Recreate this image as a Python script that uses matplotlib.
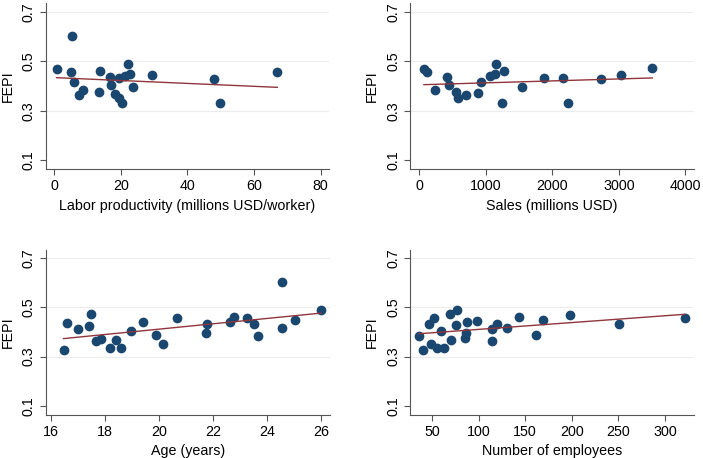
import numpy as np
import matplotlib.pyplot as plt

plt.rcParams['font.family'] = ['Liberation Sans', 'DejaVu Sans']

# Labor productivity (millions USD/worker) vs FEPI
prod_x = [0.8, 5.5, 5.1, 5.9, 7.5, 8.6, 13.5, 13.8, 16.7, 17.2, 18.3,
          19.5, 19.6, 20.4, 21.3, 22.2, 22.7, 23.8, 29.5, 47.9, 49.7, 67.0]
prod_y = [0.467, 0.602, 0.455, 0.416, 0.362, 0.383, 0.374, 0.460, 0.434, 0.402, 0.368,
          0.353, 0.432, 0.332, 0.440, 0.490, 0.448, 0.397, 0.443, 0.426, 0.332, 0.455]

# Sales (millions USD) vs FEPI
sales_x = [70, 110, 241, 421, 446, 546, 587, 697, 877, 922, 1063,
           1138, 1158, 1268, 1243, 1544, 1870, 2161, 2231, 2727, 3028, 3504]
sales_y = [0.467, 0.456, 0.383, 0.434, 0.402, 0.375, 0.352, 0.362, 0.370, 0.416, 0.440,
           0.447, 0.490, 0.460, 0.332, 0.397, 0.432, 0.430, 0.332, 0.426, 0.444, 0.471]

# Age (years) vs FEPI
age_x = [16.47, 16.60, 16.99, 17.42, 17.47, 17.69, 17.85, 18.19, 18.40, 18.59, 18.96,
         19.41, 19.88, 20.17, 20.69, 21.74, 21.79, 22.64, 22.79, 23.28, 23.51, 23.67,
         24.58, 24.57, 25.06, 26.0]
age_y = [0.328, 0.435, 0.414, 0.426, 0.472, 0.363, 0.373, 0.333, 0.369, 0.333, 0.403,
         0.442, 0.387, 0.353, 0.456, 0.397, 0.433, 0.442, 0.460, 0.456, 0.433, 0.385,
         0.602, 0.416, 0.449, 0.491]

# Number of employees vs FEPI
emp_x = [36, 40, 47, 49, 52, 55, 60, 63, 69, 70, 76, 77, 85, 86, 88, 98,
         114, 114, 120, 130, 143, 162, 169, 198, 251, 321]
emp_y = [0.384, 0.328, 0.434, 0.353, 0.456, 0.335, 0.403, 0.333, 0.471, 0.369, 0.427,
         0.491, 0.374, 0.397, 0.442, 0.443, 0.414, 0.363, 0.433, 0.416, 0.461, 0.387,
         0.449, 0.467, 0.433, 0.456]

yticks = [0.1, 0.3, 0.5, 0.7]
ytick_labels = ["0.1", "0.3", "0.5", "0.7"]

W, H = 703, 458
fig = plt.figure(figsize=(W / 100, H / 100), dpi=100)


def px_axes(left, top, right, bottom):
    return fig.add_axes([left / W, 1 - bottom / H, (right - left) / W, (bottom - top) / H])


panels = [
    (px_axes(45.7, 3.3, 329, 169), prod_x, prod_y, (-2.5, 82.5), [0, 20, 40, 60, 80],
     "Labor productivity (millions USD/worker)"),
    (px_axes(410.3, 3.3, 693.7, 169), sales_x, sales_y, (-135, 4126), [0, 1000, 2000, 3000, 4000],
     "Sales (millions USD)"),
    (px_axes(45.7, 249.7, 330, 414.7), age_x, age_y, (15.81, 26.34), [16, 18, 20, 22, 24, 26],
     "Age (years)"),
    (px_axes(410.3, 249.7, 693.7, 414.7), emp_x, emp_y, (26.7, 330.8), [50, 100, 150, 200, 250, 300],
     "Number of employees"),
]

fs = 10.3
for ax, x, y, xlim, xticks, xlabel in panels:
    x = np.array(x)
    y = np.array(y)
    for g in yticks[1:]:
        ax.axhline(g, color="#ececec", lw=0.8, zorder=0)
    ax.plot(x, y, "o", color="#1a476f", ms=6, mec="#1a476f", zorder=3)
    # linear fit line
    b, a = np.polyfit(x, y, 1)
    xs = np.array([x.min(), x.max()])
    ax.plot(xs, a + b * xs, color="#90353b", lw=1.0, zorder=4)
    ax.set_xlim(*xlim)
    ax.set_ylim(0.064, 0.734)
    ax.set_xticks(xticks)
    ax.set_yticks(yticks)
    ax.set_yticklabels(ytick_labels, rotation=90, va="center")
    ax.set_xlabel(xlabel, fontsize=fs, labelpad=4)
    ax.set_ylabel("FEPI", fontsize=fs, labelpad=5)
    ax.tick_params(labelsize=fs, color="#555555", length=4.3, width=0.8, pad=3)
    for s in ["top", "right"]:
        ax.spines[s].set_visible(False)
    for s in ["left", "bottom"]:
        ax.spines[s].set_color("#555555")
        ax.spines[s].set_linewidth(0.8)
    ax.set_facecolor("white")

fig.savefig("out.png", dpi=100)
